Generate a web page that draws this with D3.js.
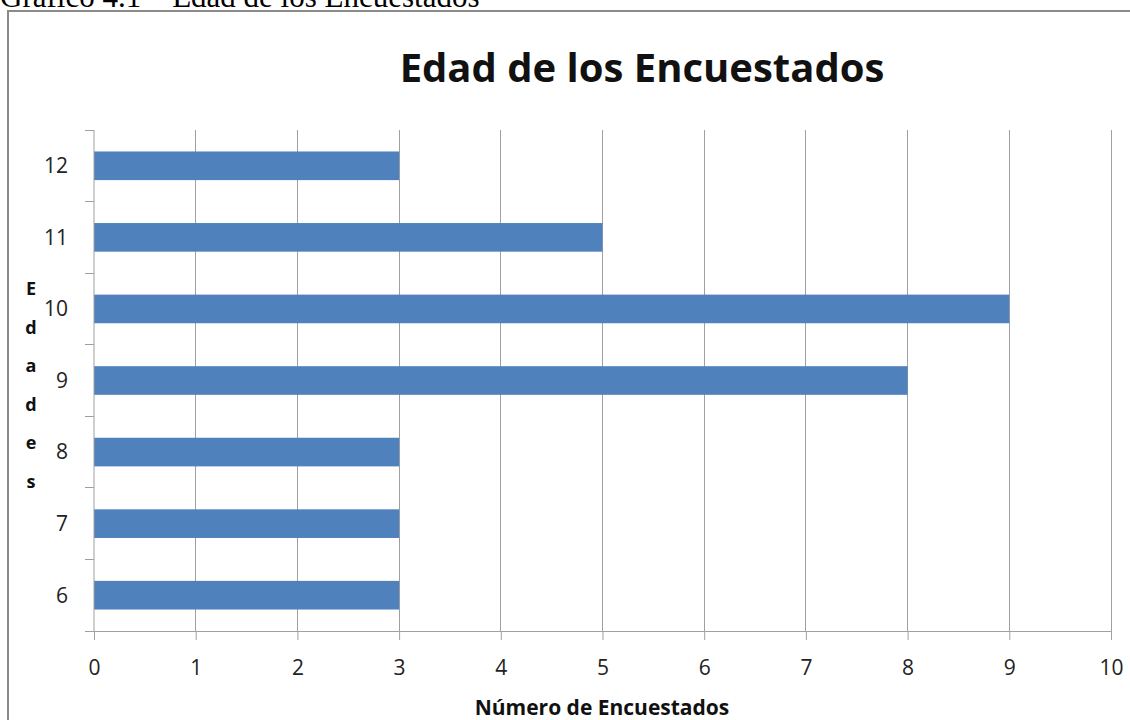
<!DOCTYPE html>
<html>
<head>
<meta charset="utf-8">
<script src="https://cdn.jsdelivr.net/npm/d3@7"></script>
<style>
  html, body { margin: 0; padding: 0; background: #fff; }
  svg { display: block; }
</style>
</head>
<body>
<svg id="chart" width="1130" height="720"></svg>
<script>
// Ages of the respondents and how many answered for each
const edades = ["6", "7", "8", "9", "10", "11", "12"];
const encuestados = [3, 3, 3, 8, 9, 5, 3];
const xTicks = [0, 1, 2, 3, 4, 5, 6, 7, 8, 9, 10];
const yTitleLetters = ["E", "d", "a", "d", "e", "s"];

const svg = d3.select("#chart");
const W = 1130, H = 720;
const plotLeft = 94, plotRight = 1111, plotTop = 130, plotBottom = 631;
const gray = "#a0a0a0";
const sans = "'Open Sans', 'Noto Sans', sans-serif";

// Document caption above the chart frame
svg.append("text")
  .attr("x", 0).attr("y", 7)
  .attr("font-family", "'Liberation Serif', 'Times New Roman', serif")
  .attr("font-size", 31)
  .attr("fill", "#000")
  .text("Gráfico 4.1 – Edad de los Encuestados");

// Chart frame
svg.append("path")
  .attr("d", `M8,${H + 5} L8,11 L${W + 5},11`)
  .attr("fill", "none")
  .attr("stroke", "#8a8a8a")
  .attr("stroke-width", 2);

const x = d3.scaleLinear().domain([0, 10]).range([plotLeft, plotRight]);
const y = d3.scaleBand().domain(edades.slice().reverse()).range([plotTop, plotBottom])
  .paddingInner(0.6).paddingOuter(0.3);
const yLine = d3.scaleLinear().domain([0, edades.length]).range([plotBottom, plotTop]);

// Vertical gridlines
svg.append("g")
  .selectAll("line")
  .data(xTicks.slice(1))
  .join("line")
  .attr("x1", d => x(d)).attr("x2", d => x(d))
  .attr("y1", plotTop).attr("y2", plotBottom)
  .attr("stroke", gray).attr("stroke-width", 1)
  .attr("shape-rendering", "crispEdges");

// Bars
svg.append("g")
  .selectAll("rect")
  .data(edades.map((e, i) => ({ edad: e, n: encuestados[i] })))
  .join("rect")
  .attr("x", x(0))
  .attr("y", d => y(d.edad))
  .attr("width", d => x(d.n) - x(0))
  .attr("height", y.bandwidth())
  .attr("fill", "#4f81bd");

// X axis
const xAxis = svg.append("g")
  .attr("transform", `translate(0,${plotBottom})`)
  .call(d3.axisBottom(x).tickValues(xTicks).tickSize(9).tickPadding(20).tickSizeOuter(0));
xAxis.select(".domain").attr("stroke", gray);
xAxis.selectAll(".tick line").attr("stroke", gray);
xAxis.selectAll(".tick text")
  .attr("font-family", sans).attr("font-size", 21).attr("fill", "#222");

// Y axis with ticks on the category boundaries
const yAxis = svg.append("g").attr("transform", `translate(${plotLeft},0)`);
yAxis.append("line")
  .attr("x1", 0).attr("x2", 0).attr("y1", plotTop).attr("y2", plotBottom)
  .attr("stroke", gray);
yAxis.selectAll("line.tk")
  .data(d3.range(edades.length + 1))
  .join("line").attr("class", "tk")
  .attr("x1", -9).attr("x2", 0)
  .attr("y1", d => yLine(d)).attr("y2", d => yLine(d))
  .attr("stroke", gray)
  .attr("shape-rendering", "crispEdges");
yAxis.selectAll("text")
  .data(edades)
  .join("text")
  .attr("x", -26)
  .attr("y", d => y(d) + y.bandwidth() / 2)
  .attr("dy", "0.35em")
  .attr("text-anchor", "end")
  .attr("font-family", sans).attr("font-size", 21).attr("fill", "#222")
  .text(d => d);

// Title
svg.append("text")
  .attr("x", 642).attr("y", 82)
  .attr("text-anchor", "middle")
  .attr("font-family", sans).attr("font-weight", "bold")
  .attr("font-size", 40).attr("fill", "#111")
  .text("Edad de los Encuestados");

// X axis title
svg.append("text")
  .attr("x", 602).attr("y", 715)
  .attr("text-anchor", "middle")
  .attr("font-family", sans).attr("font-weight", "bold")
  .attr("font-size", 21).attr("fill", "#111")
  .text("Número de Encuestados");

// Y axis title, one letter per line
svg.append("g")
  .selectAll("text")
  .data(yTitleLetters)
  .join("text")
  .attr("x", 31)
  .attr("y", (d, i) => 295 + i * 38.6)
  .attr("text-anchor", "middle")
  .attr("font-family", sans).attr("font-weight", "bold")
  .attr("font-size", 18).attr("fill", "#111")
  .text(d => d);
</script>
</body>
</html>
